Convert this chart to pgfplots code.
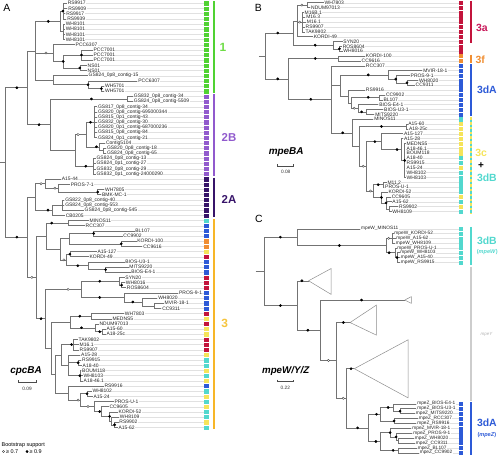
\documentclass[border=0pt]{standalone}
\usepackage{fontspec}
\setmainfont{Liberation Sans}
\usepackage{pgfplots}
\pgfplotsset{compat=1.18}
\definecolor{treec}{RGB}{115,115,115}
\definecolor{guide}{RGB}{225,225,225}
\definecolor{cgreen}{RGB}{80,210,50}
\definecolor{cgreenL}{RGB}{110,220,70}
\definecolor{cpurple}{RGB}{145,90,205}
\definecolor{cdpurple}{RGB}{55,20,105}
\definecolor{cgold}{RGB}{247,182,40}
\definecolor{cgoldL}{RGB}{246,196,60}
\definecolor{ccyan}{RGB}{82,216,206}
\definecolor{cblue}{RGB}{45,90,215}
\definecolor{corange}{RGB}{240,142,50}
\definecolor{cyellow}{RGB}{245,228,90}
\definecolor{cred}{RGB}{195,20,60}
\definecolor{cmag}{RGB}{200,25,90}
\definecolor{cgrey}{RGB}{205,205,205}
\tikzset{lbl/.style={anchor=west,inner sep=0.3pt,xshift=0.4pt,fill=white,text=black!85,font=\fontsize{5}{5}\selectfont},
lblc/.style={lbl,font=\fontsize{4.8}{4.8}\selectfont}}
\newcommand{\lab}[3]{\node[lbl] at (axis cs:#1,#2) {#3};}
\newcommand{\labc}[3]{\node[lblc] at (axis cs:#1,#2) {#3};}
\begin{document}
\begin{tikzpicture}
\begin{axis}[width=501pt,height=458pt,scale only axis,xmin=0,xmax=501,ymin=0,ymax=458,y dir=reverse,hide axis,clip=false,unbounded coords=jump,filter discard warning=false]
% ---------- guide lines
\addplot[guide,line width=0.3pt] coordinates {
(67,3.3)(205,3.3)(nan,nan)(67.5,8.5)(205,8.5)(nan,nan)(65.5,13.7)(205,13.7)(nan,nan)(66.5,18.9)(205,18.9)(nan,nan)
(65,24.1)(205,24.1)(nan,nan)(65,29.3)(205,29.3)(nan,nan)(65,34.5)(205,34.5)(nan,nan)(65,39.7)(205,39.7)(nan,nan)
(75,44.9)(205,44.9)(nan,nan)(93,50.1)(205,50.1)(nan,nan)(93,55.3)(205,55.3)(nan,nan)(93,60.5)(205,60.5)(nan,nan)
(87,65.7)(205,65.7)(nan,nan)(87,70.9)(205,70.9)(nan,nan)(88,76.1)(205,76.1)(nan,nan)(138,81.3)(205,81.3)(nan,nan)
(104.5,86.5)(205,86.5)(nan,nan)(104.5,91.7)(205,91.7)(nan,nan)(133.5,96.9)(205,96.9)(nan,nan)(133.5,102.1)(205,102.1)(nan,nan)
(97.5,107.3)(205,107.3)(nan,nan)(97.5,112.5)(205,112.5)(nan,nan)(97.5,117.7)(205,117.7)(nan,nan)(97.5,122.9)(205,122.9)(nan,nan)
(97.5,128.1)(205,128.1)(nan,nan)(97.5,133.3)(205,133.3)(nan,nan)(97.5,138.5)(205,138.5)(nan,nan)(105.5,143.7)(205,143.7)(nan,nan)
(106.5,148.9)(205,148.9)(nan,nan)(106.5,154.1)(205,154.1)(nan,nan)(96,159.3)(205,159.3)(nan,nan)(96,164.5)(205,164.5)(nan,nan)
(96,169.7)(205,169.7)(nan,nan)(96,174.9)(205,174.9)(nan,nan)(61,180.1)(205,180.1)(nan,nan)(70,185.3)(205,185.3)(nan,nan)
(104.5,190.5)(205,190.5)(nan,nan)(101.5,195.7)(205,195.7)(nan,nan)(64.5,200.9)(205,200.9)(nan,nan)(64.5,206.1)(205,206.1)(nan,nan)
(84,211.3)(205,211.3)(nan,nan)(65,216.5)(205,216.5)(nan,nan)(89,221.7)(205,221.7)(nan,nan)(85,226.9)(205,226.9)(nan,nan)
(135,232.1)(205,232.1)(nan,nan)(123,237.3)(205,237.3)(nan,nan)(137,242.5)(205,242.5)(nan,nan)(143,247.7)(205,247.7)(nan,nan)
(97,252.9)(205,252.9)(nan,nan)(89,258.1)(205,258.1)(nan,nan)(125,263.3)(205,263.3)(nan,nan)(129,268.5)(205,268.5)(nan,nan)
(131,273.7)(205,273.7)(nan,nan)(125,278.9)(205,278.9)(nan,nan)(125.5,284.1)(205,284.1)(nan,nan)(126.5,289.3)(205,289.3)(nan,nan)
(179,294.5)(205,294.5)(nan,nan)(158,299.7)(205,299.7)(nan,nan)(164.5,304.9)(205,304.9)(nan,nan)(162,310.1)(205,310.1)(nan,nan)
(124.5,315.3)(205,315.3)(nan,nan)(112,320.5)(205,320.5)(nan,nan)(99,325.7)(205,325.7)(nan,nan)(106,330.9)(205,330.9)(nan,nan)
(106,336.1)(205,336.1)(nan,nan)(78,341.3)(205,341.3)(nan,nan)(79,346.5)(205,346.5)(nan,nan)(79,351.7)(205,351.7)(nan,nan)
(80.5,356.9)(205,356.9)(nan,nan)(81.5,362.1)(205,362.1)(nan,nan)(82,367.3)(205,367.3)(nan,nan)(81.5,372.5)(205,372.5)(nan,nan)
(83,377.7)(205,377.7)(nan,nan)(83,382.9)(205,382.9)(nan,nan)(104,388.1)(205,388.1)(nan,nan)(92,393.3)(205,393.3)(nan,nan)
(93,398.5)(205,398.5)(nan,nan)(114,403.7)(205,403.7)(nan,nan)(109,408.9)(205,408.9)(nan,nan)(118,414.1)(205,414.1)(nan,nan)
(119.5,419.3)(205,419.3)(nan,nan)(119,424.5)(205,424.5)(nan,nan)(118,429.7)(205,429.7)(nan,nan)
};
\addplot[guide,line width=0.3pt] coordinates {
(325.2,2.7)(461,2.7)(nan,nan)(311.8,7.58)(461,7.58)(nan,nan)(305.2,12.46)(461,12.46)(nan,nan)(306.8,17.34)(461,17.34)(nan,nan)
(307.5,22.22)(461,22.22)(nan,nan)(306.2,27.1)(461,27.1)(nan,nan)(306.2,31.98)(461,31.98)(nan,nan)(314.5,36.86)(461,36.86)(nan,nan)
(344.2,41.74)(461,41.74)(nan,nan)(343.5,46.62)(461,46.62)(nan,nan)(344.2,51.5)(461,51.5)(nan,nan)(366.8,56.38)(461,56.38)(nan,nan)
(362.5,61.26)(461,61.26)(nan,nan)(366.8,66.14)(461,66.14)(nan,nan)(424.5,71.02)(461,71.02)(nan,nan)(411.8,75.9)(461,75.9)(nan,nan)
(420.2,80.78)(461,80.78)(nan,nan)(416.8,85.66)(461,85.66)(nan,nan)(366.8,90.54)(461,90.54)(nan,nan)(387,95.42)(461,95.42)(nan,nan)
(384.5,100.3)(461,100.3)(nan,nan)(380.2,105.18)(461,105.18)(nan,nan)(385.2,110.06)(461,110.06)(nan,nan)(376.2,114.94)(461,114.94)(nan,nan)
(375.2,119.82)(461,119.82)(nan,nan)(409.5,124.7)(461,124.7)(nan,nan)(410.2,129.58)(461,129.58)(nan,nan)(405.2,134.46)(461,134.46)(nan,nan)
(405.2,139.34)(461,139.34)(nan,nan)(407.8,144.22)(461,144.22)(nan,nan)(407.8,149.1)(461,149.1)(nan,nan)(407.8,153.98)(461,153.98)(nan,nan)
(407.8,158.86)(461,158.86)(nan,nan)(407.8,163.74)(461,163.74)(nan,nan)(407.8,168.62)(461,168.62)(nan,nan)(407.8,173.5)(461,173.5)(nan,nan)
(407.8,178.38)(461,178.38)(nan,nan)(388.5,183.26)(461,183.26)(nan,nan)(386.2,188.14)(461,188.14)(nan,nan)(389.5,193.02)(461,193.02)(nan,nan)
(392.8,197.9)(461,197.9)(nan,nan)(393.5,202.78)(461,202.78)(nan,nan)(400.2,207.66)(461,207.66)(nan,nan)(393.5,212.54)(461,212.54)(nan,nan)
(362,230)(461,230)(nan,nan)(395.5,234.82)(461,234.82)(nan,nan)(397.5,239.64)(461,239.64)(nan,nan)(397,244.46)(461,244.46)(nan,nan)
(398.5,249.28)(461,249.28)(nan,nan)(401.5,254.1)(461,254.1)(nan,nan)(402,258.92)(461,258.92)(nan,nan)(402,263.74)(461,263.74)(nan,nan)
(418.5,406)(461,406)(nan,nan)(418.5,410.93)(461,410.93)(nan,nan)(417,415.86)(461,415.86)(nan,nan)(420,420.79)(461,420.79)(nan,nan)
(418.5,425.72)(461,425.72)(nan,nan)(413.5,430.65)(461,430.65)(nan,nan)(414.5,435.58)(461,435.58)(nan,nan)(416,440.51)(461,440.51)(nan,nan)
(417,445.44)(461,445.44)(nan,nan)(419,450.37)(461,450.37)(nan,nan)(421,455.3)(461,455.3)
};
% ---------- tree A
\addplot[treec,line width=0.5pt] coordinates {
(67,3.3)(63,3.3)(63,18.9)(66.5,18.9)(nan,nan)(63,8.5)(67.5,8.5)(nan,nan)(63,13.7)(65.5,13.7)(nan,nan)
(65,24.1)(63,24.1)(63,39.7)(65,39.7)(nan,nan)(63,29.3)(65,29.3)(nan,nan)(63,34.5)(65,34.5)(nan,nan)
(63,11.1)(60,11.1)(60,31.9)(63,31.9)(nan,nan)
(93,50.1)(81,50.1)(81,60.5)(93,60.5)(nan,nan)(81,55.3)(93,55.3)(nan,nan)
(87,65.7)(80,65.7)(80,70.9)(87,70.9)(nan,nan)
(81,55.3)(63.3,55.3)(63.3,68.3)(80,68.3)(nan,nan)
(75,44.9)(53.3,44.9)(53.3,61.8)(63.3,61.8)(nan,nan)
(104.5,86.5)(101.7,86.5)(101.7,91.7)(104.5,91.7)(nan,nan)
(138,81.3)(88.3,81.3)(88.3,89.1)(101.7,89.1)(nan,nan)
(88,76.1)(53.3,76.1)(53.3,85.2)(88.3,85.2)(nan,nan)
(60,21.5)(35,21.5)(35,80.65)(53.3,80.65)(nan,nan)(35,53.35)(53.3,53.35)(nan,nan)
(133.5,96.9)(128,96.9)(128,102.1)(133.5,102.1)(nan,nan)
(97.5,107.3)(95,107.3)(95,138.5)(97.5,138.5)(nan,nan)(95,112.5)(97.5,112.5)(nan,nan)(95,117.7)(97.5,117.7)(nan,nan)(95,122.9)(97.5,122.9)(nan,nan)(95,128.1)(97.5,128.1)(nan,nan)(95,133.3)(97.5,133.3)(nan,nan)
(106.5,148.9)(104,148.9)(104,154.1)(106.5,154.1)(nan,nan)
(105.5,143.7)(100,143.7)(100,151.5)(104,151.5)(nan,nan)
(95,122.9)(86.7,122.9)(86.7,147.6)(100,147.6)(nan,nan)
(96,159.3)(94,159.3)(94,174.9)(96,174.9)(nan,nan)(94,164.5)(96,164.5)(nan,nan)(94,169.7)(96,169.7)(nan,nan)
(86.7,135.25)(75,135.25)(75,167.1)(94,167.1)(nan,nan)
(128,99.5)(50,99.5)(50,151.2)(75,151.2)(nan,nan)
(35,51.08)(26.7,51.08)(26.7,125.35)(50,125.35)(nan,nan)
(104.5,190.5)(98,190.5)(98,195.7)(101.5,195.7)(nan,nan)
(70,185.3)(58,185.3)(58,193.1)(98,193.1)(nan,nan)
(61,180.1)(45,180.1)(45,189.2)(58,189.2)(nan,nan)
(64.5,200.9)(62,200.9)(62,211.3)(84,211.3)(nan,nan)(62,206.1)(64.5,206.1)(nan,nan)
(62,206.1)(52,206.1)(52,216.5)(65,216.5)(nan,nan)
(45,184.65)(35,184.65)(35,211.3)(52,211.3)(nan,nan)
(89,221.7)(68.3,221.7)(68.3,226.9)(85,226.9)(nan,nan)
(135,232.1)(94,232.1)(94,237.3)(123,237.3)(nan,nan)
(137,242.5)(121.7,242.5)(121.7,247.7)(143,247.7)(nan,nan)
(94,234.7)(69,234.7)(69,245.1)(121.7,245.1)(nan,nan)
(97,252.9)(70,252.9)(70,258.1)(89,258.1)(nan,nan)
(129,268.5)(106,268.5)(106,273.7)(131,273.7)(nan,nan)
(125,263.3)(88,263.3)(88,271.1)(106,271.1)(nan,nan)
(70,255.5)(66,255.5)(66,267.2)(88,267.2)(nan,nan)
(69,239.9)(60,239.9)(60,261.35)(66,261.35)(nan,nan)
(68.3,224.3)(46,224.3)(46,250.6)(60,250.6)(nan,nan)
(125.5,284.1)(122,284.1)(122,289.3)(126.5,289.3)(nan,nan)
(125,278.9)(120,278.9)(120,286.7)(122,286.7)(nan,nan)
(164.5,304.9)(155,304.9)(155,310.1)(162,310.1)(nan,nan)
(158,299.7)(143,299.7)(143,307.5)(155,307.5)(nan,nan)
(179,294.5)(125,294.5)(125,303.6)(143,303.6)(nan,nan)
(120,282.8)(81.7,282.8)(81.7,299.05)(125,299.05)(nan,nan)
(124.5,315.3)(91.7,315.3)(91.7,320.5)(112,320.5)(nan,nan)
(106,330.9)(103,330.9)(103,336.1)(106,336.1)(nan,nan)
(99,325.7)(96,325.7)(96,333.5)(103,333.5)(nan,nan)
(91.7,317.9)(70,317.9)(70,329.6)(96,329.6)(nan,nan)
(78,341.3)(73,341.3)(73,351.7)(79,351.7)(nan,nan)(73,346.5)(79,346.5)(nan,nan)
(81.5,362.1)(78.3,362.1)(78.3,367.3)(82,367.3)(nan,nan)
(81.5,372.5)(80,372.5)(80,382.9)(83,382.9)(nan,nan)(80,377.7)(83,377.7)(nan,nan)
(80.5,356.9)(68.3,356.9)(68.3,377.7)(80,377.7)(nan,nan)(68.3,364.7)(78.3,364.7)(nan,nan)
(73,346.5)(61.7,346.5)(61.7,367.3)(68.3,367.3)(nan,nan)
(92,393.3)(87.3,393.3)(87.3,398.5)(93,398.5)(nan,nan)
(119,424.5)(115,424.5)(115,429.7)(118,429.7)(nan,nan)
(119.5,419.3)(112,419.3)(112,427.1)(115,427.1)(nan,nan)
(118,414.1)(110,414.1)(110,423.2)(112,423.2)(nan,nan)
(109,408.9)(102,408.9)(102,418.65)(110,418.65)(nan,nan)
(114,403.7)(95,403.7)(95,413.8)(102,413.8)(nan,nan)
(87.3,395.9)(80,395.9)(80,408.75)(95,408.75)(nan,nan)
(104,388.1)(68.3,388.1)(68.3,402.3)(80,402.3)(nan,nan)
(61.7,356.9)(55,356.9)(55,395.2)(68.3,395.2)(nan,nan)
(70,323.75)(51.7,323.75)(51.7,376.05)(55,376.05)(nan,nan)
(81.7,290.9)(45,290.9)(45,349.9)(51.7,349.9)(nan,nan)
(46,237.45)(36.7,237.45)(36.7,320.4)(45,320.4)(nan,nan)
(35,197.98)(26.7,197.98)(26.7,278.9)(36.7,278.9)(nan,nan)
(26.7,88.2)(5,88.2)(5,238.4)(26.7,238.4)(nan,nan)
(0,163.3)(5,163.3)
};
% ---------- tree B
\addplot[treec,line width=0.5pt] coordinates {
(325.2,2.7)(308.3,2.7)(308.3,7.58)(311.8,7.58)(nan,nan)
(305.2,12.46)(304,12.46)(304,31.98)(306.2,31.98)(nan,nan)(304,17.34)(306.8,17.34)(nan,nan)(304,22.22)(307.5,22.22)(nan,nan)(304,27.1)(306.2,27.1)(nan,nan)
(308.3,5.14)(298.3,5.14)(298.3,36.86)(314.5,36.86)(nan,nan)(298.3,22.22)(304,22.22)(nan,nan)
(343.5,46.62)(341,46.62)(341,51.5)(344.2,51.5)(nan,nan)
(344.2,41.74)(335,41.74)(335,49.06)(341,49.06)(nan,nan)
(298.3,21.0)(295,21.0)(295,45.4)(335,45.4)(nan,nan)
(366.8,56.38)(340,56.38)(340,61.26)(362.5,61.26)(nan,nan)
(420.2,80.78)(409,80.78)(409,85.66)(416.8,85.66)(nan,nan)
(411.8,75.9)(397.7,75.9)(397.7,83.22)(409,83.22)(nan,nan)
(424.5,71.02)(390,71.02)(390,79.56)(397.7,79.56)(nan,nan)
(387,95.42)(381,95.42)(381,100.3)(384.5,100.3)(nan,nan)
(385.2,110.06)(368,110.06)(368,114.94)(376.2,114.94)(nan,nan)
(380.2,105.18)(360,105.18)(360,112.5)(368,112.5)(nan,nan)
(381,97.86)(353,97.86)(353,108.84)(360,108.84)(nan,nan)
(366.8,90.54)(350,90.54)(350,103.35)(353,103.35)(nan,nan)
(390,75.29)(342.3,75.29)(342.3,96.95)(350,96.95)(nan,nan)
(409.5,124.7)(408,124.7)(408,129.58)(410.2,129.58)(nan,nan)
(407.8,144.22)(406.7,144.22)(406.7,178.38)(407.8,178.38)(nan,nan)
(405.2,139.34)(403,139.34)(403,161.3)(406.7,161.3)(nan,nan)
(405.2,134.46)(383.3,134.46)(383.3,150.32)(403,150.32)(nan,nan)
(388.5,183.26)(385,183.26)(385,188.14)(386.2,188.14)(nan,nan)
(400.2,207.66)(391.5,207.66)(391.5,212.54)(393.5,212.54)(nan,nan)
(392.8,197.9)(388,197.9)(388,210.1)(391.5,210.1)(nan,nan)(388,202.78)(393.5,202.78)(nan,nan)
(389.5,193.02)(383.3,193.02)(383.3,204)(388,204)(nan,nan)
(385,185.7)(375,185.7)(375,198.51)(383.3,198.51)(nan,nan)
(383.3,142.39)(368,142.39)(368,192.1)(375,192.1)(nan,nan)
(408,127.14)(361,127.14)(361,167.25)(368,167.25)(nan,nan)
(375.2,119.82)(354.3,119.82)(354.3,147.2)(361,147.2)(nan,nan)
(366.8,66.14)(333.3,66.14)(333.3,133.51)(354.3,133.51)(nan,nan)(333.3,86.12)(342.3,86.12)(nan,nan)
(340,58.82)(290,58.82)(290,99.83)(333.3,99.83)(nan,nan)
(295,33.2)(266.7,33.2)(266.7,79.33)(290,79.33)(nan,nan)
(260,56.27)(266.7,56.27)
};
% ---------- tree C
\addplot[treec,line width=0.5pt] coordinates {
(401.5,254.1)(399,254.1)(399,263.74)(402,263.74)(nan,nan)(399,258.92)(402,258.92)(nan,nan)
(398.5,249.28)(396.7,249.28)(396.7,258.92)(399,258.92)(nan,nan)
(395.5,234.82)(394.3,234.82)(394.3,244.46)(397,244.46)(nan,nan)(394.3,239.64)(397.5,239.64)(nan,nan)
(394.3,239.64)(388.3,239.64)(388.3,254.1)(396.7,254.1)(nan,nan)
(362,230)(298.3,230)(298.3,246.87)(388.3,246.87)(nan,nan)
(418.5,410.93)(402,410.93)(402,415.86)(417,415.86)(nan,nan)
(418.5,406)(395,406)(395,413.4)(402,413.4)(nan,nan)
(420,420.79)(396,420.79)(396,425.72)(418.5,425.72)(nan,nan)
(395,409.7)(382,409.7)(382,423.25)(396,423.25)(nan,nan)
(416,440.51)(400,440.51)(400,445.44)(417,445.44)(nan,nan)
(414.5,435.58)(398,435.58)(398,442.98)(400,442.98)(nan,nan)
(413.5,430.65)(392,430.65)(392,439.28)(398,439.28)(nan,nan)
(419,450.37)(400,450.37)(400,455.3)(421,455.3)(nan,nan)
(392,434.97)(382,434.97)(382,452.8)(400,452.8)(nan,nan)
(382,416.5)(370,416.5)(370,443.9)(382,443.9)(nan,nan)
(356,370.7)(348.3,370.7)(348.3,430.2)(370,430.2)(nan,nan)
(351.7,324.3)(338.3,324.3)(338.3,400.45)(348.3,400.45)(nan,nan)
(406.7,301.7)(321.7,301.7)(321.7,362.4)(338.3,362.4)(nan,nan)
(310,282.3)(298.3,282.3)(298.3,332.05)(321.7,332.05)(nan,nan)
(298.3,238.45)(265,238.45)(265,307.2)(298.3,307.2)(nan,nan)
(256.7,272.8)(265,272.8)
};
% collapsed clades
\addplot[black!45,line width=0.5pt] coordinates {
(310,282.3)(332.7,270)(332.7,296)(310,282.3)(nan,nan)
(406.7,301.7)(413.3,298.3)(413.3,305)(406.7,301.7)(nan,nan)
(351.7,324.3)(378.3,306.7)(378.3,337)(351.7,324.3)(nan,nan)
(356,370.7)(410,341.7)(410,400)(356,370.7)
};
% scale bars
\addplot[black!70,line width=0.5pt] coordinates {
(18.3,382.5)(18.3,384)(35.7,384)(35.7,382.5)(nan,nan)
(279,165.2)(279,166.7)(295,166.7)(295,165.2)(nan,nan)
(278.3,381.8)(278.3,383.3)(295,383.3)(295,381.8)
};
% ---------- labels A
\lab{67}{3.3}{RS9917}\lab{67.5}{8.5}{RS9909}\lab{65.5}{13.7}{RS9917}\lab{66.5}{18.9}{RS9939}
\lab{65}{24.1}{WH8101}\lab{65}{29.3}{WH8101}\lab{65}{34.5}{WH8101}\lab{65}{39.7}{WH8101}
\lab{75}{44.9}{PCC6307}\lab{93}{50.1}{PCC7001}\lab{93}{55.3}{PCC7001}\lab{93}{60.5}{PCC7001}
\lab{87}{65.7}{NS01}\lab{87}{70.9}{NS01}\lab{88}{76.1}{GS824\_0p8\_contig-15}\lab{138}{81.3}{PCC6307}
\lab{104.5}{86.5}{WH5701}\lab{104.5}{91.7}{WH5701}
\lab{133.5}{96.9}{GS832\_0p8\_contig-34}\lab{133.5}{102.1}{GS824\_0p8\_contig-5509}
\lab{97.5}{107.3}{GS817\_0p8\_contig-34}\lab{97.5}{112.5}{GS820\_0p8\_contig-695000344}
\lab{97.5}{117.7}{GS815\_0p1\_contig-43}\lab{97.5}{122.9}{GS832\_0p8\_contig-30}
\lab{97.5}{128.1}{GS820\_0p1\_contig-687000236}\lab{97.5}{133.3}{GS815\_0p8\_contig-84}
\lab{97.5}{138.5}{GS824\_0p1\_contig-21}\lab{105.5}{143.7}{Contig5104}
\lab{106.5}{148.9}{GS820\_0p8\_contig-18}\lab{106.5}{154.1}{GS824\_0p8\_contig-65}
\lab{96}{159.3}{GS824\_0p8\_contig-13}\lab{96}{164.5}{GS824\_0p1\_contig-27}
\lab{96}{169.7}{GS832\_0p8\_contig-29}\lab{96}{174.9}{GS832\_0p1\_contig-24000290}
\lab{61}{180.1}{A15-44}\lab{70}{185.3}{PROS-7-1}\lab{104.5}{190.5}{WH7805}\lab{101.5}{195.7}{BMK-MC-1}
\lab{64.5}{200.9}{GS822\_0p8\_contig-40}\lab{64.5}{206.1}{GS824\_0p8\_contig-553}
\lab{84}{211.3}{GS824\_0p8\_contig-545}\lab{65}{216.5}{CB0205}
\lab{89}{221.7}{MINOS11}\lab{85}{226.9}{RCC307}\lab{135}{232.1}{BL107}\lab{123}{237.3}{CC9902}
\lab{137}{242.5}{KORDI-100}\lab{143}{247.7}{CC9616}\lab{97}{252.9}{A15-127}\lab{89}{258.1}{KORDI-49}
\lab{125}{263.3}{BIOS-U3-1}\lab{129}{268.5}{MITS9220}\lab{131}{273.7}{BIOS-E4-1}\lab{125}{278.9}{SYN20}
\lab{125.5}{284.1}{WH8016}\lab{126.5}{289.3}{ROS8604}\lab{179}{294.5}{PROS-9-1}\lab{158}{299.7}{WH8020}
\lab{164.5}{304.9}{MVIR-18-1}\lab{162}{310.1}{CC9311}\lab{124.5}{315.3}{WH7803}\lab{112}{320.5}{MEDNS5}
\lab{99}{325.7}{NDUM97013}\lab{106}{330.9}{A15-60}\lab{106}{336.1}{A18-25c}\lab{78}{341.3}{TAK9802}
\lab{79}{346.5}{M16.1}\lab{79}{351.7}{RS9907}\lab{80.5}{356.9}{A15-28}\lab{81.5}{362.1}{RS9915}
\lab{82}{367.3}{A18-40}\lab{81.5}{372.5}{BOUM118}\lab{83}{377.7}{WH8103}\lab{83}{382.9}{A18-46.1}
\lab{104}{388.1}{RS9916}\lab{92}{393.3}{WH8102}\lab{93}{398.5}{A15-24}\lab{114}{403.7}{PROS-U-1}
\lab{109}{408.9}{CC9605}\lab{118}{414.1}{KORDI-52}\lab{119.5}{419.3}{WH8109}\lab{119}{424.5}{RS9902}
\lab{118}{429.7}{A15-62}
% ---------- labels B
\lab{325.2}{2.7}{WH7803}\lab{311.8}{7.58}{NDUM97013}\lab{305.2}{12.46}{M16B.1}\lab{306.8}{17.34}{M16.3}
\lab{307.5}{22.22}{M16.1}\lab{306.2}{27.1}{RS9907}\lab{306.2}{31.98}{TAK9802}\lab{314.5}{36.86}{KORDI-49}
\lab{344.2}{41.74}{SYN20}\lab{343.5}{46.62}{ROS8604}\lab{344.2}{51.5}{WH8016}\lab{366.8}{56.38}{KORDI-100}
\lab{362.5}{61.26}{CC9616}\lab{366.8}{66.14}{RCC307}\lab{424.5}{71.02}{MVIR-18-1}\lab{411.8}{75.9}{PROS-9-1}
\lab{420.2}{80.78}{WH8020}\lab{416.8}{85.66}{CC9311}\lab{366.8}{90.54}{RS9916}\lab{387}{95.42}{CC9902}
\lab{384.5}{100.3}{BL107}\lab{380.2}{105.18}{BIOS-E4-1}\lab{385.2}{110.06}{BIOS-U3-1}\lab{376.2}{114.94}{MITS9220}
\lab{375.2}{119.82}{MINOS11}\lab{409.5}{124.7}{A15-60}\lab{410.2}{129.58}{A18-25c}\lab{405.2}{134.46}{A15-127}
\lab{405.2}{139.34}{A15-28}\lab{407.8}{144.22}{MEDNS5}\lab{407.8}{149.1}{A18-46.1}\lab{407.8}{153.98}{BOUM118}
\lab{407.8}{158.86}{A18-40}\lab{407.8}{163.74}{RS9915}\lab{407.8}{168.62}{A15-24}\lab{407.8}{173.5}{WH8102}
\lab{407.8}{178.38}{WH8103}\lab{388.5}{183.26}{M11.2}\lab{386.2}{188.14}{PROS-U-1}\lab{389.5}{193.02}{KORDI-52}
\lab{392.8}{197.9}{CC9605}\lab{393.5}{202.78}{A15-62}\lab{400.2}{207.66}{RS9902}\lab{393.5}{212.54}{WH8109}
% ---------- labels C
\labc{362}{230}{mpeW\_MINOS11}\labc{395.5}{234.82}{mpeW\_KORDI-52}\labc{397.5}{239.64}{mpeW\_A15-62}
\labc{397}{244.46}{mpeW\_WH8109}\labc{398.5}{249.28}{mpeW\_PROS-U-1}\labc{401.5}{254.1}{mpeW\_WH8103}
\labc{402}{258.92}{mpeW\_A15-40}\labc{402}{263.74}{mpeW\_RS9915}
\labc{418.5}{406}{mpeZ\_BIOS-E4-1}\labc{418.5}{410.93}{mpeZ\_BIOS-U3-1}\labc{417}{415.86}{mpeZ\_MITS9220}
\labc{420}{420.79}{mpeZ\_RCC307}\labc{418.5}{425.72}{mpeZ\_RS9916}\labc{413.5}{430.65}{mpeZ\_MVIR-18-1}
\labc{414.5}{435.58}{mpeZ\_PROS-9-1}\labc{416}{440.51}{mpeZ\_WH8020}\labc{417}{445.44}{mpeZ\_CC9311}
\labc{419}{450.37}{mpeZ\_BL107}\labc{421}{455.3}{mpeZ\_CC9902}
% ---------- bootstrap dots
\addplot[only marks,mark=*,mark size=1.15pt,black] coordinates {
(16.7,88.2)(16.7,238.4)(48.3,21.5)(63,11.1)(63.3,61.8)(81.7,55.3)(80,68.3)(88.3,85.2)(101.7,89.1)
(39,125.35)(91.7,99.5)(90.7,122.9)(96.7,147.6)(86,167.1)(98,193.1)(48,211.3)
(51.7,224.3)(94,234.7)(121.7,245.1)(70,255.5)(78,267.2)(106,271.1)(41,320.4)(100,282.8)(122,286.7)
(100,299.05)(133.3,303.6)(80,317.9)(81.7,329.6)(100,333.5)(71.7,346.5)(78.3,364.7)(80,377.7)
(87.3,395.9)(100,413.8)(110,418.65)(115,427.1)
(279,33.2)(279,79.33)(316.7,45.4)(341,49.06)(316.7,58.82)(312.3,99.83)(370,75.29)(397.7,79.56)(409,83.22)
(370,97.86)(363.3,112.5)(344.3,133.51)(383.3,127.14)(376.7,142.39)(399,150.32)(406.7,161.3)
(380,185.7)(383.3,198.51)(388,204)
(281.7,238.45)(341,246.87)(391,254.1)(399,258.92)(281.7,307.2)(303.3,282.3)(309.3,332.05)(363.3,301.7)
(345,324.3)(352.7,370.7)(359.3,430.2)(378.3,416.5)(377.7,443.9)(390,409.7)(402,413.4)(396,423.25)
(392,434.97)(398,439.28)(395,452.8)
(27,454)
};
\addplot[only marks,mark=*,mark size=1.15pt,mark options={fill=white,draw=black!75,line width=0.35pt}] coordinates {
(46,53.35)(78.3,135.25)(41,184.65)(55,189.2)(31.7,278.9)(64,261.35)(68.3,290.9)(78.3,402.3)(88.3,408.75)
(303.3,5.14)(301,22.22)(356,108.84)(365,167.25)(372.3,192.1)
(390.5,239.64)(330,362.4)(345,400.45)
(3.3,454)
};
% ---------- colour squares A
\addplot[only marks,mark=square*,mark size=1.6pt,cgreen,mark options={draw=none}] coordinates {
(207,3.3)(207,8.5)(207,13.7)(207,18.9)(207,24.1)(207,29.3)(207,34.5)(207,39.7)(207,44.9)(207,50.1)(207,55.3)(207,60.5)(207,65.7)(207,70.9)(207,76.1)(207,81.3)(207,86.5)(207,91.7)};
\addplot[only marks,mark=square*,mark size=1.6pt,cpurple,mark options={draw=none}] coordinates {
(207,96.9)(207,102.1)(207,107.3)(207,112.5)(207,117.7)(207,122.9)(207,128.1)(207,133.3)(207,138.5)(207,143.7)(207,148.9)(207,154.1)(207,159.3)(207,164.5)(207,169.7)(207,174.9)};
\addplot[only marks,mark=square*,mark size=1.6pt,cdpurple,mark options={draw=none}] coordinates {
(207,180.1)(207,185.3)(207,190.5)(207,195.7)(207,200.9)(207,206.1)(207,211.3)(207,216.5)};
\addplot[only marks,mark=square*,mark size=1.6pt,ccyan,mark options={draw=none}] coordinates {
(207,221.7)(207,362.1)(207,367.3)(207,377.7)(207,393.3)(207,403.7)(207,414.1)(207,419.3)(207,429.7)
(463,119.82)(463,158.86)(463,163.74)(463,173.5)(463,178.38)(463,183.26)(463,188.14)(463,193.02)(463,202.78)(463,212.54)
(463,230)(463,234.82)(463,239.64)(463,244.46)(463,249.28)(463,254.1)(463,258.92)(463,263.74)};
\addplot[only marks,mark=square*,mark size=1.6pt,cblue,mark options={draw=none}] coordinates {
(207,226.9)(207,232.1)(207,237.3)(207,263.3)(207,268.5)(207,273.7)(207,294.5)(207,299.7)(207,304.9)(207,310.1)(207,388.1)
(463,66.14)(463,71.02)(463,75.9)(463,80.78)(463,85.66)(463,90.54)(463,95.42)(463,100.3)(463,105.18)(463,110.06)(463,114.94)
(463,406)(463,410.93)(463,415.86)(463,420.79)(463,425.72)(463,430.65)(463,435.58)(463,440.51)(463,445.44)(463,450.37)(463,455.3)};
\addplot[only marks,mark=square*,mark size=1.6pt,corange,mark options={draw=none}] coordinates {
(207,242.5)(207,247.7)(463,56.38)(463,61.26)};
\addplot[only marks,mark=square*,mark size=1.6pt,cyellow,mark options={draw=none}] coordinates {
(207,252.9)(207,320.5)(207,330.9)(207,336.1)(207,356.9)(207,372.5)(207,382.9)(207,398.5)(207,408.9)(207,424.5)
(463,124.7)(463,129.58)(463,134.46)(463,139.34)(463,144.22)(463,149.1)(463,153.98)(463,168.62)(463,197.9)(463,207.66)};
\addplot[only marks,mark=square*,mark size=1.6pt,cred,mark options={draw=none}] coordinates {
(207,258.1)(207,278.9)(207,284.1)(207,289.3)(207,315.3)(207,325.7)(207,341.3)(207,346.5)(207,351.7)
(463,2.7)(463,7.58)(463,12.46)(463,17.34)(463,22.22)(463,27.1)(463,31.98)(463,36.86)(463,41.74)(463,46.62)(463,51.5)};
% ---------- group bars
\addplot[cgreen,line width=2pt] coordinates {(215,1.5)(215,93.5)};
\addplot[cpurple,line width=2pt] coordinates {(215,95)(215,177)};
\addplot[cdpurple,line width=2pt] coordinates {(215,178.5)(215,218.5)};
\addplot[cgold,line width=2pt] coordinates {(215,220)(215,431.5)};
\addplot[cred,line width=2pt] coordinates {(473,1)(473,43.5)};
\addplot[corange,line width=2pt] coordinates {(473,55)(473,63)};
\addplot[cblue,line width=2pt] coordinates {(473,64.5)(473,116.5)};
\addplot[cyellow,line width=2pt,dash pattern=on 2.4pt off 2.4pt] coordinates {(473,118)(473,214.5)};
\addplot[ccyan,line width=2pt,dash pattern=on 2.4pt off 2.4pt,dash phase=2.4pt] coordinates {(473,118)(473,214.5)};
\addplot[ccyan,line width=2pt] coordinates {(473,228)(473,266)};
\addplot[cgrey,line width=2pt] coordinates {(473,268)(473,403)};
\addplot[cblue,line width=2pt] coordinates {(473,404.5)(473,457.5)};
% ---------- texts
\node[font=\fontsize{10.5}{10.5}\selectfont] at (axis cs:6.7,7.5) {A};
\node[font=\fontsize{10.5}{10.5}\selectfont] at (axis cs:259.5,8) {B};
\node[font=\fontsize{10.5}{10.5}\selectfont] at (axis cs:260,220.5) {C};
\node[text=cgreenL,font=\bfseries\fontsize{12}{12}\selectfont] at (axis cs:224,47.7) {1};
\node[text=cpurple,font=\bfseries\fontsize{11.5}{11.5}\selectfont] at (axis cs:230,138) {2B};
\node[text=cdpurple,font=\bfseries\fontsize{11.5}{11.5}\selectfont] at (axis cs:230,200.5) {2A};
\node[text=cgoldL,font=\bfseries\fontsize{12}{12}\selectfont] at (axis cs:225.8,325) {3};
\node[text=cmag,font=\bfseries\fontsize{10.5}{10.5}\selectfont] at (axis cs:484.3,27.7) {3a};
\node[text=corange,font=\bfseries\fontsize{10.5}{10.5}\selectfont] at (axis cs:482.7,59.7) {3f};
\node[text=cblue,font=\bfseries\fontsize{10.5}{10.5}\selectfont] at (axis cs:489.3,90) {3dA};
\node[text=cyellow,font=\bfseries\fontsize{10.5}{10.5}\selectfont] at (axis cs:483.5,153.8) {3c};
\node[text=black,font=\bfseries\fontsize{10}{10}\selectfont] at (axis cs:483.3,166) {+};
\node[text=ccyan,font=\bfseries\fontsize{10.5}{10.5}\selectfont] at (axis cs:489.3,178.8) {3dB};
\node[text=ccyan,font=\bfseries\fontsize{10.5}{10.5}\selectfont] at (axis cs:489.3,241.7) {3dB};
\node[text=ccyan,font=\bfseries\fontsize{5.6}{5.6}\selectfont] at (axis cs:489.7,253.3) {(\textit{mpeW})};
\node[text=black!30,font=\itshape\fontsize{4.5}{4.5}\selectfont] at (axis cs:489,336) {mpeY};
\node[text=cblue,font=\bfseries\fontsize{10.5}{10.5}\selectfont] at (axis cs:489.3,425.5) {3dA};
\node[text=cblue,font=\bfseries\fontsize{5.6}{5.6}\selectfont] at (axis cs:489.3,437) {(\textit{mpeZ})};
\node[font=\bfseries\itshape\fontsize{10}{10}\selectfont] at (axis cs:26,373) {cpcBA};
\node[font=\bfseries\itshape\fontsize{10}{10}\selectfont] at (axis cs:287.5,153.3) {mpeBA};
\node[font=\bfseries\itshape\fontsize{9.8}{9.8}\selectfont] at (axis cs:287,372.7) {mpeW/Y/Z};
\node[font=\fontsize{4.8}{4.8}\selectfont,text=black!80] at (axis cs:27,390.5) {0.09};
\node[font=\fontsize{4.8}{4.8}\selectfont,text=black!80] at (axis cs:287,172.7) {0.08};
\node[font=\fontsize{4.8}{4.8}\selectfont,text=black!80] at (axis cs:286.7,389.8) {0.22};
\node[anchor=west,inner sep=0pt,font=\fontsize{5.5}{5.5}\selectfont] at (axis cs:1.2,447.7) {Bootstrap support};
\node[anchor=west,inner sep=0pt,font=\fontsize{5.5}{5.5}\selectfont] at (axis cs:5.6,454) {≥ 0.7};
\node[anchor=west,inner sep=0pt,font=\fontsize{5.5}{5.5}\selectfont] at (axis cs:29.3,454) {≥ 0.9};
\end{axis}
\end{tikzpicture}
\end{document}
